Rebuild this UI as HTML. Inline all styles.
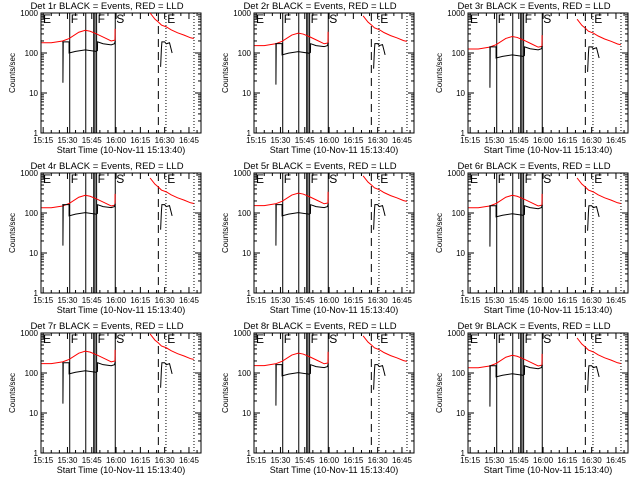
<!DOCTYPE html>
<html><head><meta charset="utf-8"><style>
body{margin:0;background:#fff;}
svg{display:block;font-family:"Liberation Sans",sans-serif;}
</style></head><body>
<svg id="chart" width="640" height="480" viewBox="0 0 640 480"></svg>
<script>
// time in minutes after 15:00
const detectors = ["1r","2r","3r","4r","5r","6r","7r","8r","9r"];
const redScale = [1, 0.85, 0.7, 0.75, 0.85, 0.75, 0.95, 0.85, 0.75];
const blackScale = [1, 0.9, 0.75, 0.85, 0.85, 0.8, 0.95, 0.85, 0.8];
const redSeg1T = [14,20,27,31,37,41,44,48,53,57,59.3,59.4];
const redSeg1V = [180,180,200,230,330,370,350,300,240,200,210,400];
const redSeg2T = [81,84,86,88,91,94,98,102,106,108];
const redSeg2V = [1000,700,600,500,450,380,320,280,240,230];
const blackSeg1T = [26.8,27.2,27.2,27.4,31.0,31.0,35,41,47.5,48.5,48.6,52,57,59,59.5];
const blackSeg1V = [190,190,18,190,190,100,110,120,110,115,190,170,160,170,200];
const blackSeg2T = [87.5,88,88.3,90,91,93,94.6];
const blackSeg2V = [45,130,190,190,170,180,100];
const solidLines = [31.4,41.3,46.2,47.0,48.0,59.5];
const dashedLines = [86.1];
const dottedLines = [90.8,108.1];
const markerLabels = ["E","F","F","S","E"];
const markerTimes = [14.3,31.4,48.0,59.5,91.0];
const xTickLabels = ["15:15","15:30","15:45","16:00","16:15","16:30","16:45"];
const xTickTimes = [15,30,45,60,75,90,105];
const yTickLabels = ["1","10","100","1000"];
const yTickValues = [1,10,100,1000];

const NS="http://www.w3.org/2000/svg";
const svg=document.getElementById('chart');
function mk(tag,attrs,parent){const e=document.createElementNS(NS,tag);for(const k in attrs)e.setAttribute(k,attrs[k]);(parent||svg).appendChild(e);return e;}
const L=41,R=201,T=13,B=133,t0=13.667,t1=t0+160/1.62;
detectors.forEach((d,i)=>{
  const ox=Math.round((i%3)*213.33), oy=Math.floor(i/3)*160;
  const g=mk('g',{transform:`translate(${ox},${oy})`});
  
  
  const xs=t=>L+(t-t0)/(t1-t0)*(R-L);
  const ys=v=>B-(Math.log10(Math.max(v,1)))/3*(B-T);
  const title=mk('text',{x:107,y:9,'text-anchor':'middle','font-size':'9.5'},g);title.textContent=`Det ${d} BLACK = Events, RED = LLD`;
  
  
  const frame=mk('rect',{x:L,y:T,width:R-L,height:B-T,fill:'none',stroke:'#000','stroke-width':1},g);
  
  
  yTickValues.forEach((v,k)=>{
    const y=ys(v);
    mk('line',{x1:L,x2:L+6,y1:y,y2:y,stroke:'#000'},g);mk('line',{x1:R-6,x2:R,y1:y,y2:y,stroke:'#000'},g);
    const tl=mk('text',{x:L-3,y:y+3,'text-anchor':'end','font-size':'8'},g);tl.textContent=yTickLabels[k];
    
    
    if(k<3)for(let m=2;m<10;m++){const yy=ys(v*m);mk('line',{x1:L,x2:L+3,y1:yy,y2:yy,stroke:'#000'},g);mk('line',{x1:R-3,x2:R,y1:yy,y2:yy,stroke:'#000'},g);}
  });
  xTickTimes.forEach((t,k)=>{
    const x=xs(t);
    mk('line',{x1:x,x2:x,y1:B,y2:B-6,stroke:'#000'},g);mk('line',{x1:x,x2:x,y1:T,y2:T+6,stroke:'#000'},g);
    for(let m=5;m<15;m+=5){const xx=xs(t+m);if(xx<R){mk('line',{x1:xx,x2:xx,y1:B,y2:B-3,stroke:'#000'},g);mk('line',{x1:xx,x2:xx,y1:T,y2:T+3,stroke:'#000'},g);}}
    const tl=mk('text',{x:x,y:B+10,'text-anchor':'middle','font-size':'8'},g);tl.textContent=xTickLabels[k];
    
    
  });
  const xl=mk('text',{x:121,y:B+20,'text-anchor':'middle','font-size':'9'},g);xl.textContent='Start Time (10-Nov-11 15:13:40)';
  
  
  const yl=mk('text',{x:0,y:0,'text-anchor':'middle','font-size':'8',transform:`translate(15,${(T+B)/2}) rotate(-90)`},g);yl.textContent='Counts/sec';
  
  
  solidLines.forEach(t=>{const l=mk('line',{x1:xs(t),x2:xs(t),y1:T,y2:B,stroke:'#000'},g);});
  dashedLines.forEach(t=>{const l=mk('line',{x1:xs(t),x2:xs(t),y1:T,y2:B,stroke:'#000','stroke-dasharray':'8,5'},g);});
  dottedLines.forEach(t=>{const l=mk('line',{x1:xs(t),x2:xs(t),y1:T,y2:B,stroke:'#000','stroke-dasharray':'1,2'},g);});
  markerLabels.forEach((s,k)=>{const tx=mk('text',{x:xs(markerTimes[k])+1,y:T+10,'font-size':'12'},g);tx.textContent=s;});
  const poly=(TT,VV,sc,col,name)=>{const p=mk('polyline',{points:TT.map((t,k)=>xs(t)+','+Math.max(T,ys(VV[k]*sc))).join(' '),fill:'none',stroke:col,'stroke-width':1},g);};
  poly(redSeg1T,redSeg1V,redScale[i],'#f00','lld-series');
  poly(redSeg2T,redSeg2V,redScale[i],'#f00','lld-series');
  poly(blackSeg1T,blackSeg1V,blackScale[i],'#000','events-series');
  poly(blackSeg2T,blackSeg2V,blackScale[i],'#000','events-series');
});
</script>
</body></html>
